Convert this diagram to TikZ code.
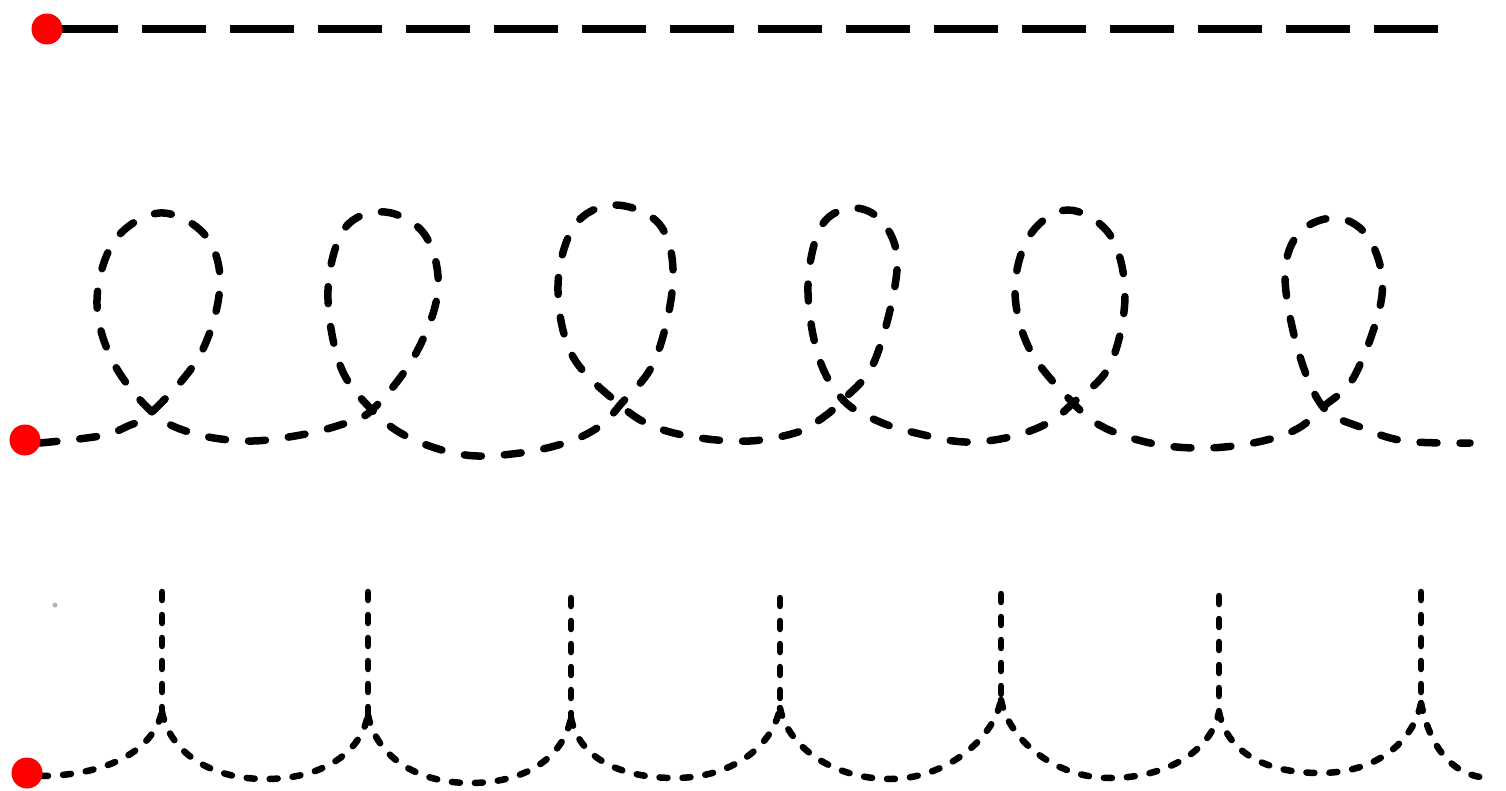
\documentclass[tikz,border=0pt]{standalone}
\usepackage{tikz}
\usetikzlibrary{positioning}
\tikzset{
  dot/.style={circle,fill=red,inner sep=0pt,minimum size=31pt},
  longdash/.style={line width=7.5pt,dash pattern=on 64pt off 24pt},
  loopdash/.style={line width=7.5pt,line cap=round,dash pattern=on 17pt off 23pt},
  finedash/.style={line width=6.5pt,line cap=round,dash pattern=on 8pt off 15pt},
}
\begin{document}
\begin{tikzpicture}[x=1pt,y=-1pt]
\useasboundingbox (0,0) rectangle (1506,791);
\draw[longdash] (54,29) -- (1438,29);
\draw[loopdash] plot[smooth,tension=0.6] coordinates {
  (40,443) (100,436) (128,426) (152,412) (200,355) (220,285) (205,235) (160,213) (115,240) (97,300) (112,360) (152,412)
  (192,433) (245,441) (295,436) (340,425) (372,410) (415,355) (438,290) (425,235) (385,212) (345,228) (328,290) (340,365) (372,410)
  (410,438) (465,455) (520,453) (568,442) (600,426) (620,405) (655,360) (673,280) (660,225) (615,205) (575,225) (558,285) (572,355) (620,405)
  (655,427) (700,438) (750,441) (795,433) (818,421) (843,400) (875,360) (897,270) (885,225) (855,208) (822,225) (808,285) (818,355) (843,400)
  (880,422) (920,434) (965,442) (1010,437) (1048,423) (1073,403) (1110,365) (1125,295) (1110,235) (1068,210) (1030,235) (1015,290) (1030,350) (1073,403)
  (1105,428) (1155,444) (1207,448) (1258,442) (1297,429) (1323,407) (1355,375) (1382,295) (1370,240) (1338,218) (1300,232) (1285,275) (1298,350) (1323,407)
  (1360,427) (1405,441) (1470,443)};
\draw[finedash] (40,776) .. controls (90,776) and (150,760) .. (162,712);
\foreach \cx/\cy/\tp/\vx/\vy/\nx/\ny in {
  162/712/592/265/779/368/715,
  368/715/592/470/783/571/718,
  571/718/598/675/778/780/708,
  780/708/598/890/779/1001/700,
  1001/700/594/1110/778/1219/712,
  1219/712/596/1320/773/1421/703}{
  \draw[finedash] (\cx,\tp) -- (\cx,\cy);
  \draw[finedash] (\cx,\cy) .. controls (\cx+8,\cy+40) and (\vx-55,\vy) .. (\vx,\vy)
    .. controls (\vx+55,\vy) and (\nx-8,\ny+40) .. (\nx,\ny);
}
\draw[finedash] (1421,592) -- (1421,703);
\draw[finedash] (1421,703) .. controls (1429,743) and (1450,778) .. (1492,778);
\fill[gray!60] (55,605) circle (2.5);
\node[dot] (start1) at (47,29) {};
\node[dot] (start2) at (25,440) {};
\node[dot] (start3) at (27,773) {};
\end{tikzpicture}
\end{document}
